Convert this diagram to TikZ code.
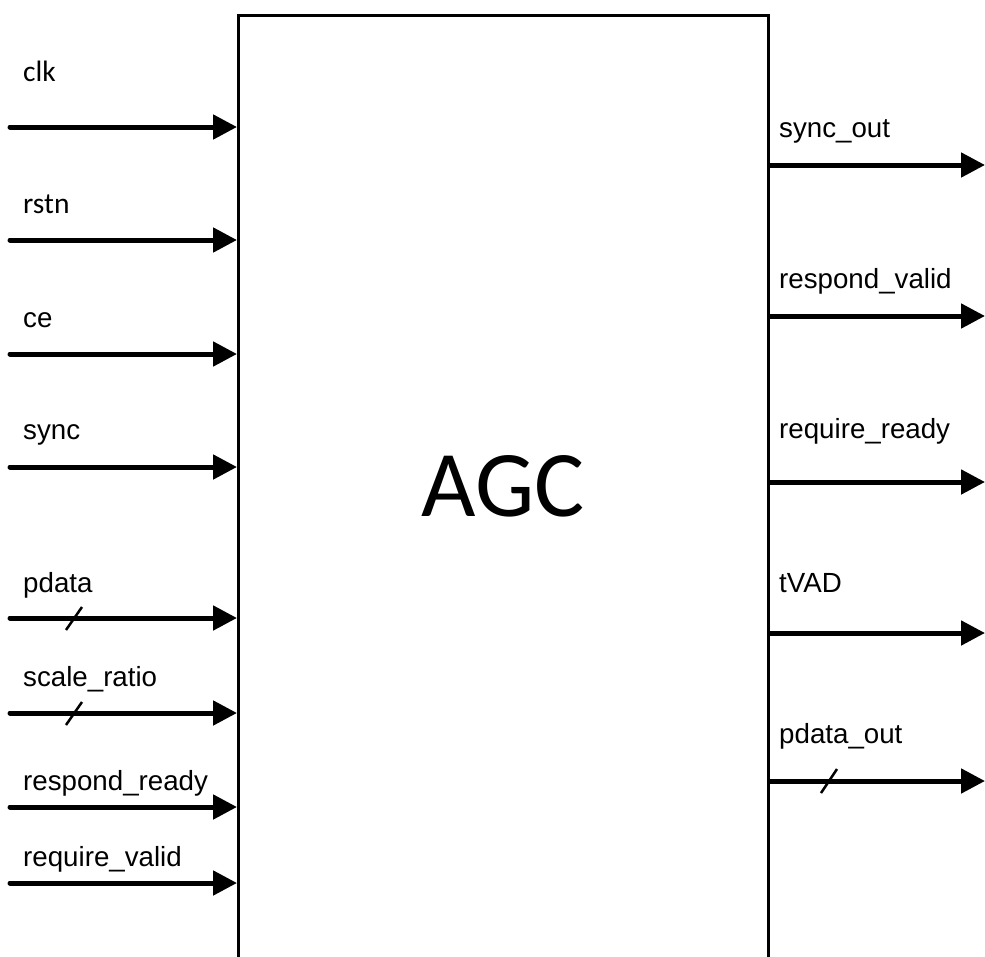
\documentclass[tikz,border=0pt]{standalone}
\usepackage{fontspec}
\setmainfont{Liberation Sans}
\newfontfamily\calib{Carlito}
\usetikzlibrary{arrows.meta}
\begin{document}
\begin{tikzpicture}[x=1pt,y=-1pt,
  sig/.style={line width=5pt, line cap=round, -{Triangle[length=24pt,width=24pt]}},
  lbl/.style={anchor=base west, inner sep=0pt, font=\fontsize{27.7}{30}\selectfont},
  clbl/.style={anchor=base west, inner sep=0pt, font=\calib\fontsize{29.5}{32}\selectfont},
  bus/.style={line width=2.5pt}]
\useasboundingbox (0,0) rectangle (985,956);
\clip (0,0) rectangle (985,956);
\fill[white] (0,0) rectangle (985,956);
\node[draw, line width=3pt, fill=white, minimum width=530pt, minimum height=1000pt, anchor=north west, inner sep=0pt] (box) at (237,13.5) {};
\node[font=\calib\fontsize{94}{100}\selectfont, inner sep=0pt] (agc) at (503,486) {AGC};
% inputs
\foreach \n/\y in {clk/127, rstn/240, ce/354, sync/467, pdata/618, scale/713, rready/807, rvalid/883}
  \coordinate (in\n) at (10,\y);
\foreach \n in {clk, rstn, ce, sync, pdata, scale, rready, rvalid}
  \draw[sig] (in\n) -- (in\n -| box.west);
\node[clbl] (lclk) at (23,81) {clk};
\node[clbl] (lrstn) at (23,213) {rstn};
\node[lbl] (lce) at (23,327) {ce};
\node[lbl] (lsync) at (23,439) {sync};
\node[lbl] (lpdata) at (23,592) {pdata};
\node[lbl] (lscale) at (23,686) {scale\_ratio};
\node[lbl] (lrready) at (23,790) {respond\_ready};
\node[lbl] (lrvalid) at (23,866) {require\_valid};
\coordinate (s1a) at (66,630); \coordinate (s1b) at (82,607);
\draw[bus] (s1a) -- (s1b);
\coordinate (s2a) at (66,725); \coordinate (s2b) at (82,702);
\draw[bus] (s2a) -- (s2b);
% outputs
\foreach \n/\y in {sout/165, rvld/316, rrdy/482, tvad/633, pout/781}
  \coordinate (out\n) at (985,\y);
\foreach \n in {sout, rvld, rrdy, tvad, pout}
  \draw[sig] (out\n -| box.east) -- (out\n);
\node[lbl] (lsout) at (779,137) {sync\_out};
\node[lbl] (lrvld) at (779,288) {respond\_valid};
\node[lbl] (lrrdy) at (779,438) {require\_ready};
\node[lbl] (ltvad) at (779,592) {tVAD};
\node[lbl] (lpout) at (779,743) {pdata\_out};
\coordinate (s3a) at (821,793); \coordinate (s3b) at (837,769);
\draw[bus] (s3a) -- (s3b);
\end{tikzpicture}
\end{document}
